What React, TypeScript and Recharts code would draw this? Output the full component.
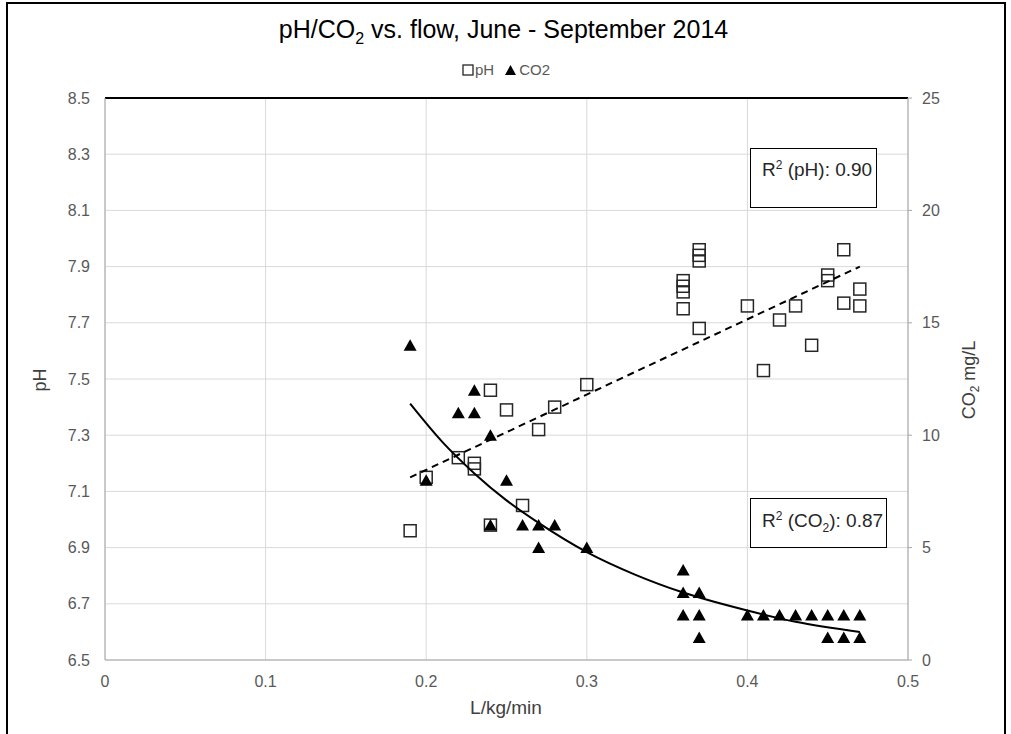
import { ComposedChart, Scatter, XAxis, YAxis, CartesianGrid, ReferenceLine } from 'recharts'

// flow (L/kg/min) and pH readings
const phFlow = [0.19, 0.2, 0.22, 0.23, 0.23, 0.24, 0.24, 0.25, 0.26, 0.27, 0.28, 0.3, 0.36, 0.36, 0.36, 0.36, 0.37, 0.37, 0.37, 0.37, 0.4, 0.41, 0.42, 0.43, 0.44, 0.45, 0.45, 0.46, 0.46, 0.47, 0.47]
const phValues = [6.96, 7.15, 7.22, 7.2, 7.18, 7.46, 6.98, 7.39, 7.05, 7.32, 7.4, 7.48, 7.85, 7.83, 7.81, 7.75, 7.96, 7.94, 7.92, 7.68, 7.76, 7.53, 7.71, 7.76, 7.62, 7.87, 7.85, 7.96, 7.77, 7.82, 7.76]

// flow and CO2 readings (mg/L)
const co2Flow = [0.19, 0.2, 0.22, 0.23, 0.23, 0.24, 0.24, 0.25, 0.26, 0.27, 0.27, 0.28, 0.3, 0.36, 0.36, 0.36, 0.37, 0.37, 0.37, 0.4, 0.41, 0.42, 0.43, 0.44, 0.45, 0.45, 0.46, 0.46, 0.47, 0.47]
const co2Values = [14, 8, 11, 11, 12, 10, 6, 8, 6, 6, 5, 6, 5, 4, 3, 2, 3, 2, 1, 2, 2, 2, 2, 2, 2, 1, 2, 1, 2, 1]

// trend lines
const phTrendFlow = [0.19, 0.47]
const phTrendValues = [7.15, 7.9]
const co2TrendFlow = [0.19, 0.21, 0.23, 0.25, 0.27, 0.3, 0.33, 0.36, 0.4, 0.43, 0.47]
const co2TrendValues = [11.4, 9.7, 8.3, 7.1, 6.1, 4.8, 3.8, 3.0, 2.2, 1.7, 1.25]

const xTicks = [0, 0.1, 0.2, 0.3, 0.4, 0.5]
const phTicks = [6.5, 6.7, 6.9, 7.1, 7.3, 7.5, 7.7, 7.9, 8.1, 8.3, 8.5]
const co2Ticks = [0, 5, 10, 15, 20, 25]

const toPoints = (xs: number[], ys: number[]) => xs.map((x, i) => ({ x, y: ys[i] }))

const phData = toPoints(phFlow, phValues)
const co2Data = toPoints(co2Flow, co2Values)
const phTrend = toPoints(phTrendFlow, phTrendValues)
const co2Trend = toPoints(co2TrendFlow, co2TrendValues)

const FONT = '"Liberation Sans", Arial, sans-serif'
const TICK = { fill: '#595959', fontSize: 16, fontFamily: FONT }

const SquareMark = (props: any) => {
    const { cx, cy } = props
    if (cx == null || cy == null) return <g />
    return <rect x={cx - 6} y={cy - 6} width={12} height={12} fill="none" stroke="#262626" strokeWidth={1.5} />
}

const TriangleMark = (props: any) => {
    const { cx, cy } = props
    if (cx == null || cy == null) return <g />
    return <polygon points={`${cx},${cy - 6} ${cx + 6.5},${cy + 5.5} ${cx - 6.5},${cy + 5.5}`} fill="#000" />
}

const NoMark = () => <g />

const abs = (extra: React.CSSProperties): React.CSSProperties => ({
    position: 'absolute',
    fontFamily: FONT,
    whiteSpace: 'nowrap',
    ...extra,
})

const supStyle: React.CSSProperties = { fontSize: 12, lineHeight: 0, verticalAlign: 'super' }
const subStyle: React.CSSProperties = { fontSize: 12, lineHeight: 0, verticalAlign: 'sub' }

export default function App() {
    return (
        <div style={{ position: 'absolute', left: 0, top: 0, width: 1011, height: 734, background: '#fff', overflow: 'hidden' }}>
            <div style={{ position: 'absolute', left: 6, top: 2, width: 1000, height: 760, border: '2px solid #000', boxSizing: 'border-box' }} />

            <div style={abs({ left: 0, top: 14, width: 1007, textAlign: 'center', fontSize: 25, lineHeight: '30px', color: '#000' })}>
                pH/CO<span style={{ fontSize: 16, lineHeight: 0, verticalAlign: 'sub' }}>2</span> vs. flow, June - September 2014
            </div>

            {/* legend */}
            <div style={abs({ left: 462, top: 60, fontSize: 15, lineHeight: '20px', color: '#595959', display: 'flex', alignItems: 'center' })}>
                <svg width={12} height={12} style={{ marginRight: 1 }}>
                    <rect x={1} y={1} width={10} height={10} fill="none" stroke="#262626" strokeWidth={1.3} />
                </svg>
                <span>pH</span>
                <svg width={14} height={12} style={{ marginLeft: 10, marginRight: 1 }}>
                    <polygon points="6.5,1 12,11 1,11" fill="#000" />
                </svg>
                <span>CO2</span>
            </div>

            <ComposedChart
                width={1011}
                height={734}
                margin={{ top: 98, right: 43, bottom: 34, left: 45 }}
                style={{ position: 'absolute', left: 0, top: 0 }}
            >
                <CartesianGrid yAxisId="left" stroke="#d9d9d9" strokeWidth={1} />
                <XAxis
                    type="number"
                    dataKey="x"
                    domain={[0, 0.5]}
                    ticks={xTicks}
                    tickFormatter={(v: number) => String(v)}
                    height={40}
                    tick={TICK}
                    tickLine={false}
                    tickSize={5}
                    tickMargin={11}
                    axisLine={{ stroke: '#a6a6a6' }}
                    allowDataOverflow
                />
                <YAxis
                    yAxisId="left"
                    type="number"
                    dataKey="y"
                    domain={[6.5, 8.5]}
                    ticks={phTicks}
                    tickFormatter={(v: number) => v.toFixed(1)}
                    width={60}
                    tick={TICK}
                    tickLine={false}
                    tickSize={5}
                    tickMargin={10}
                    axisLine={{ stroke: '#a6a6a6' }}
                    allowDataOverflow
                />
                <YAxis
                    yAxisId="right"
                    orientation="right"
                    type="number"
                    dataKey="y"
                    domain={[0, 25]}
                    ticks={co2Ticks}
                    width={60}
                    tick={TICK}
                    tickLine={{ stroke: '#a6a6a6' }}
                    tickSize={4}
                    tickMargin={10}
                    axisLine={{ stroke: '#a6a6a6' }}
                    allowDataOverflow
                />
                <ReferenceLine yAxisId="left" y={8.5} stroke="#000" strokeWidth={2} />

                <Scatter yAxisId="left" data={phData} shape={SquareMark} isAnimationActive={false} />
                <Scatter yAxisId="right" data={co2Data} shape={TriangleMark} isAnimationActive={false} />

                <Scatter
                    yAxisId="left"
                    data={phTrend}
                    shape={NoMark}
                    line={{ stroke: '#000', strokeWidth: 2, strokeDasharray: '7 5' }}
                    isAnimationActive={false}
                />
                <Scatter
                    yAxisId="right"
                    data={co2Trend}
                    shape={NoMark}
                    line={{ stroke: '#000', strokeWidth: 2 }}
                    lineJointType="monotoneX"
                    isAnimationActive={false}
                />
            </ComposedChart>

            {/* axis titles */}
            <div style={abs({ left: 40, top: 380, transform: 'translate(-50%, -50%) rotate(-90deg)', fontSize: 18, color: '#404040' })}>
                pH
            </div>
            <div style={abs({ left: 969, top: 380, transform: 'translate(-50%, -50%) rotate(-90deg)', fontSize: 18, color: '#404040' })}>
                CO<span style={subStyle}>2</span> mg/L
            </div>
            <div style={abs({ left: 506, top: 708, transform: 'translate(-50%, -50%)', fontSize: 19, color: '#404040' })}>
                L/kg/min
            </div>

            {/* R² annotations */}
            <div style={abs({ left: 750, top: 148, width: 127, height: 60, border: '1px solid #000', boxSizing: 'border-box', background: '#fff', fontSize: 19, lineHeight: '22px', color: '#262626', paddingLeft: 11, paddingTop: 10 })}>
                R<span style={supStyle}>2</span> (pH): 0.90
            </div>
            <div style={abs({ left: 750, top: 498, width: 137, height: 50, border: '1px solid #000', boxSizing: 'border-box', background: '#fff', fontSize: 19, lineHeight: '22px', color: '#262626', paddingLeft: 11, paddingTop: 11 })}>
                R<span style={supStyle}>2</span> (CO<span style={subStyle}>2</span>): 0.87
            </div>
        </div>
    )
}
